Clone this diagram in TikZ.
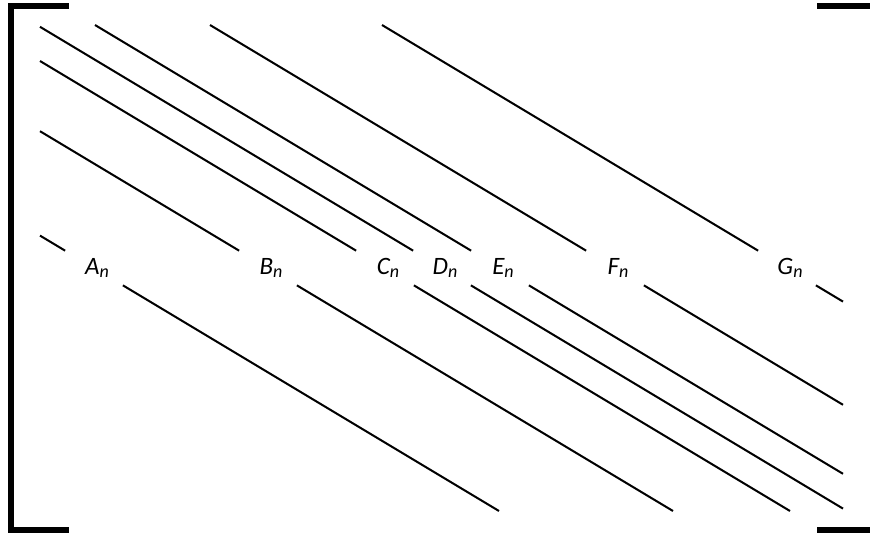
\documentclass[tikz,border=0pt]{standalone}
\usepackage{fontspec}
\setmainfont{Carlito}
\newcommand{\labtxt}[1]{\hspace*{6pt}\raisebox{-4pt}{#1\raisebox{-3pt}{\fontsize{18}{20}\selectfont n}}}
\begin{document}
\begin{tikzpicture}[x=1pt,y=-1pt,
  lab/.style={circle,inner sep=0pt,minimum size=67pt,font=\fontsize{25}{30}\selectfont\itshape},
  diag/.style={line width=2pt},
  brk/.style={line width=6pt,line join=miter}]
\useasboundingbox (0,0) rectangle (870,536);
\draw[brk] (69,6) -- (11,6) -- (11,530) -- (69,530);
\draw[brk] (817,6) -- (875,6) -- (875,530) -- (817,530);
\foreach \n/\cx in {A/94,B/268,C/385,D/442,E/500,F/615,G/787}{
  \pgfmathsetmacro\sx{max(40,\cx-405)}
  \pgfmathsetmacro\sy{268-0.6*(\cx-\sx)}
  \pgfmathsetmacro\ex{min(843,\cx+405)}
  \pgfmathsetmacro\ey{268+0.6*(\ex-\cx)}
  \node[lab] (\n) at (\cx,268) {\labtxt{\n}};
  \coordinate (\n top) at (\sx,\sy);
  \coordinate (\n bot) at (\ex,\ey);
  \draw[diag] (\n top) -- (\n);
  \draw[diag] (\n) -- (\n bot);
}
\end{tikzpicture}
\end{document}
